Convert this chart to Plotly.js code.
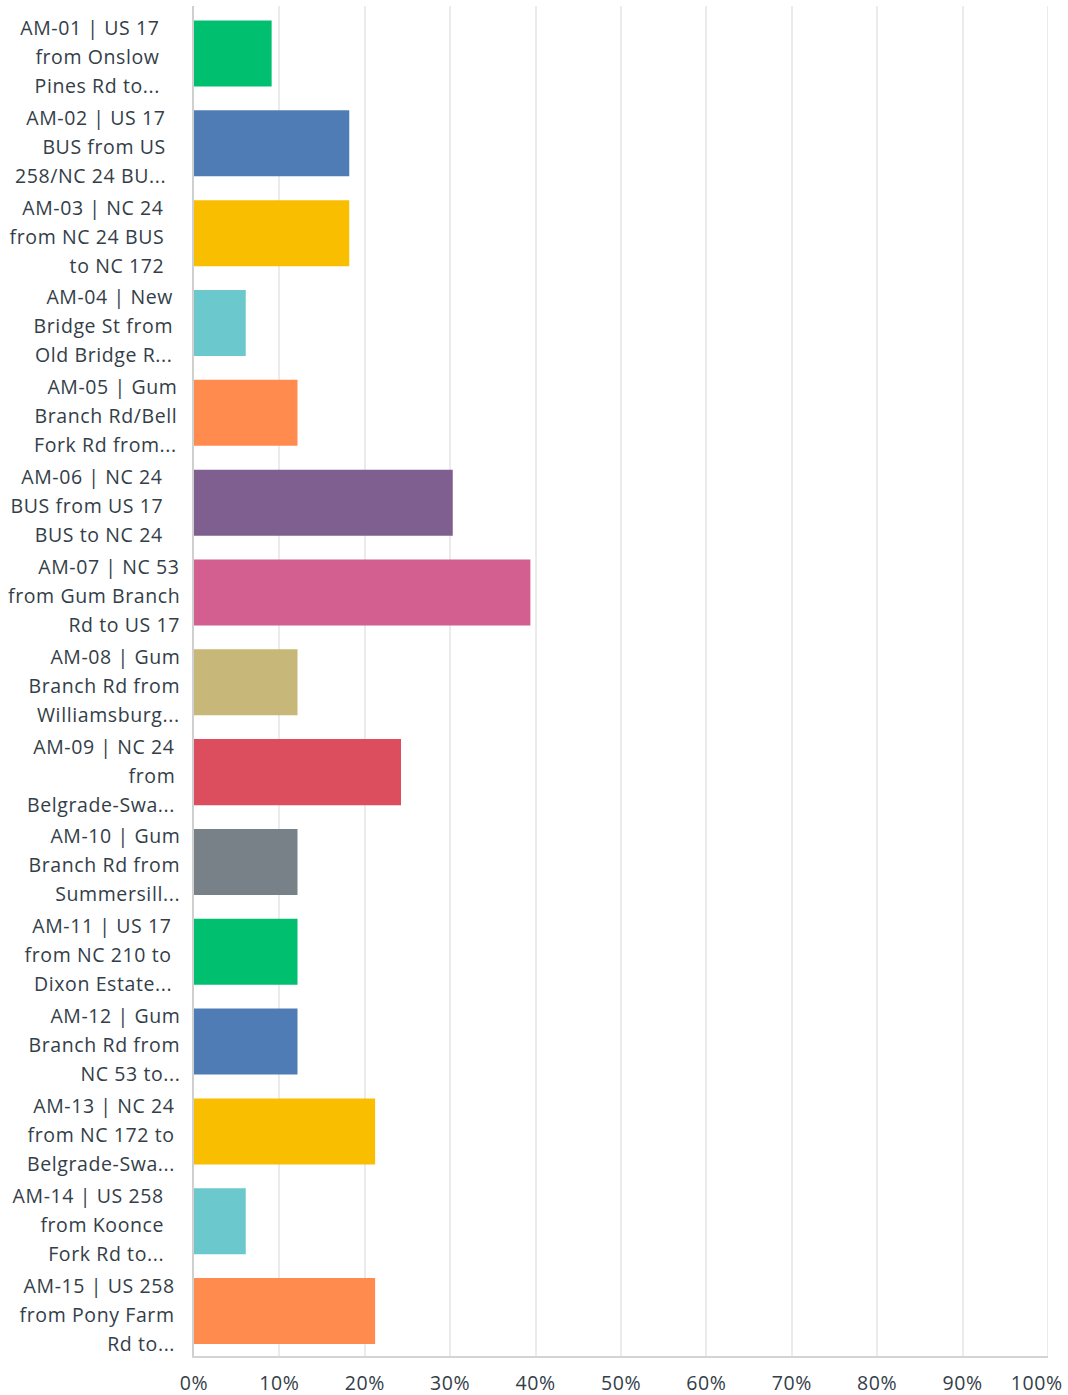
<!DOCTYPE html>
<html>
<head>
<meta charset="utf-8">
<script src="https://cdn.plot.ly/plotly-3.0.1.min.js"></script>
<style>
  html, body { margin: 0; padding: 0; background: #fff; }
  #chart { width: 1068px; height: 1395px; }
  #chart .annotation-text, #chart .xtick text { letter-spacing: 0.6px; }
</style>
</head>
<body>
<div id="chart"></div>
<script>
// ---- data ----
const categories = ["AM-01","AM-02","AM-03","AM-04","AM-05","AM-06","AM-07","AM-08","AM-09","AM-10","AM-11","AM-12","AM-13","AM-14","AM-15"];
const labelLines = [
  ["AM-01 | US 17", "from Onslow", "Pines Rd to..."],
  ["AM-02 | US 17", "BUS from US", "258/NC 24 BU..."],
  ["AM-03 | NC 24", "from NC 24 BUS", "to NC 172"],
  ["AM-04 | New", "Bridge St from", "Old Bridge R..."],
  ["AM-05 | Gum", "Branch Rd/Bell", "Fork Rd from..."],
  ["AM-06 | NC 24", "BUS from US 17", "BUS to NC 24"],
  ["AM-07 | NC 53", "from Gum Branch", "Rd to US 17"],
  ["AM-08 | Gum", "Branch Rd from", "Williamsburg..."],
  ["AM-09 | NC 24", "from", "Belgrade-Swa..."],
  ["AM-10 | Gum", "Branch Rd from", "Summersill..."],
  ["AM-11 | US 17", "from NC 210 to", "Dixon Estate..."],
  ["AM-12 | Gum", "Branch Rd from", "NC 53 to..."],
  ["AM-13 | NC 24", "from NC 172 to", "Belgrade-Swa..."],
  ["AM-14 | US 258", "from Koonce", "Fork Rd to..."],
  ["AM-15 | US 258", "from Pony Farm", "Rd to..."]
];
const percentages = [9.09, 18.18, 18.18, 6.06, 12.12, 30.30, 39.39, 12.12, 24.24, 12.12, 12.12, 12.12, 21.21, 6.06, 21.21];
const tickValues = [0,10,20,30,40,50,60,70,80,90,100];
const tickLabels = ["0%","10%","20%","30%","40%","50%","60%","70%","80%","90%","100%"];

// ---- styles ----
const palette = ["#00bf6f","#507cb6","#f9be00","#6bc8cd","#ff8b4f","#7f5f90","#d25f90","#c7b879","#dc4e5e","#798188"];
const barColors = categories.map((c, i) => palette[i % palette.length]);
// label block right-edge offset from the zero line (px, layout only)
const labelGap = [32, 26, 28, 19, 15, 29, 12, 12, 17, 12, 20, 12, 17, 28, 17];
const textColor = "#333e48";
const fontFamily = "'Open Sans', Lato, sans-serif";
const labelFont = { family: fontFamily, size: 19.5, color: textColor };

const last = tickLabels.length - 1;
// the last tick label is drawn right-aligned (as in the original) so it stays on the page
const axisTickText = tickLabels.map((t, i) => i === last ? "" : t);

const annotations = [];
categories.forEach((cat, i) => {
  labelLines[i].forEach((line, j) => {
    annotations.push({
      x: 0, xref: "x", y: cat, yref: "y",
      xanchor: "right", yanchor: "middle",
      xshift: -labelGap[i], yshift: (1 - j) * 29 - 3,
      text: line, showarrow: false, align: "right",
      font: labelFont
    });
  });
});
annotations.push({
  x: tickValues[last], xref: "x", y: 0, yref: "paper",
  xanchor: "right", yanchor: "top",
  xshift: 16, yshift: -11,
  text: tickLabels[last], showarrow: false,
  font: labelFont
});

const trace = {
  type: "bar",
  orientation: "h",
  y: categories,
  x: percentages,
  marker: { color: barColors },
  width: 0.735,
  hoverinfo: "none"
};

const layout = {
  width: 1068, height: 1395,
  margin: { l: 194, r: 20, t: 6, b: 39, pad: 0 },
  paper_bgcolor: "#ffffff",
  plot_bgcolor: "#ffffff",
  showlegend: false,
  xaxis: {
    range: [0, 100],
    tickvals: tickValues,
    ticktext: axisTickText,
    showgrid: true, gridcolor: "#ebebeb", gridwidth: 2,
    zeroline: false,
    showline: true, linecolor: "#d3d3d3", linewidth: 2,
    ticks: "", ticklabelstandoff: 9,
    ticklabeloverflow: "allow",
    tickfont: { family: fontFamily, size: 19.5, color: textColor },
    fixedrange: true
  },
  yaxis: {
    type: "category",
    categoryorder: "array", categoryarray: categories,
    autorange: "reversed",
    showticklabels: false, ticks: "",
    showgrid: false, zeroline: false,
    showline: true, linecolor: "#cfcfcf", linewidth: 2,
    fixedrange: true
  },
  shapes: [{
    type: "line", xref: "x", yref: "paper",
    x0: tickValues[last], x1: tickValues[last],
    y0: 0, y1: 1,
    line: { color: "#ebebeb", width: 2 }, layer: "below"
  }],
  annotations: annotations
};

Plotly.newPlot("chart", [trace], layout, { displayModeBar: false, staticPlot: true });
</script>
</body>
</html>
